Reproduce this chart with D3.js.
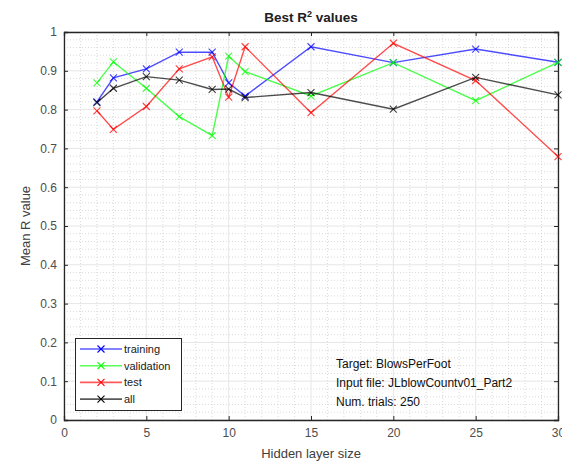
<!DOCTYPE html>
<html><head><meta charset="utf-8">
<script src="https://cdn.jsdelivr.net/npm/d3@7"></script>
<style>body{margin:0;background:#fff;font-family:"Liberation Sans",Arial,sans-serif;}</style>
</head><body><svg id="c" width="562" height="462"></svg>
<script>
const hiddenSizes = [2, 3, 5, 7, 9, 10, 11, 15, 20, 25, 30];
const training   = [0.820, 0.882, 0.905, 0.948, 0.948, 0.869, 0.835, 0.962, 0.921, 0.956, 0.922];
const validation = [0.869, 0.923, 0.855, 0.782, 0.733, 0.938, 0.898, 0.835, 0.921, 0.823, 0.922];
const test       = [0.797, 0.749, 0.808, 0.905, 0.936, 0.832, 0.962, 0.792, 0.971, 0.875, 0.679];
const all        = [0.818, 0.855, 0.885, 0.876, 0.852, 0.853, 0.831, 0.844, 0.801, 0.883, 0.838];
const seriesNames = ["training", "validation", "test", "all"];
const seriesColors = ["#0000ff", "#00ff00", "#ff0000", "#000000"];
const xTicks = [0, 5, 10, 15, 20, 25, 30];
const yTicks = [0, 0.1, 0.2, 0.3, 0.4, 0.5, 0.6, 0.7, 0.8, 0.9, 1];
const infoLines = ["Target: BlowsPerFoot", "Input file: JLblowCountv01_Part2", "Num. trials: 250"];

const svg = d3.select("#c");
const L = 64, R = 558, T = 32, B = 420;
const x = d3.scaleLinear().domain([0, 30]).range([L, R]);
const y = d3.scaleLinear().domain([0, 1]).range([B, T]);

// minor grid
const g = svg.append("g");
g.selectAll("line.mx").data(d3.range(0, 31, 1).filter(v => v % 5)).enter().append("line")
  .attr("x1", d => x(d)).attr("x2", d => x(d)).attr("y1", T).attr("y2", B)
  .attr("stroke", "#d0d0d0").attr("stroke-width", 0.8).attr("stroke-dasharray", "1,2");
g.selectAll("line.my").data(d3.range(0, 51, 1).filter(v => v % 5).map(v => v * 0.02)).enter().append("line")
  .attr("x1", L).attr("x2", R).attr("y1", d => y(d)).attr("y2", d => y(d))
  .attr("stroke", "#d0d0d0").attr("stroke-width", 0.8).attr("stroke-dasharray", "1,2");
// major grid
g.selectAll("line.gx").data(xTicks).enter().append("line")
  .attr("x1", d => x(d)).attr("x2", d => x(d)).attr("y1", T).attr("y2", B)
  .attr("stroke", "#e6e6e6").attr("stroke-width", 1);
g.selectAll("line.gy").data(yTicks).enter().append("line")
  .attr("x1", L).attr("x2", R).attr("y1", d => y(d)).attr("y2", d => y(d))
  .attr("stroke", "#e6e6e6").attr("stroke-width", 1);

// axes
const xa = svg.append("g").attr("transform", `translate(0,${B})`)
  .call(d3.axisBottom(x).tickValues(xTicks).tickSize(-4).tickPadding(8).tickFormat(d3.format("d")));
const xa2 = svg.append("g").attr("transform", `translate(0,${T})`)
  .call(d3.axisTop(x).tickValues(xTicks).tickSize(-4).tickFormat(""));
const ya = svg.append("g").attr("transform", `translate(${L},0)`)
  .call(d3.axisLeft(y).tickValues(yTicks).tickSize(-4).tickPadding(7).tickFormat(d => d3.format("")(+d.toFixed(1))));
const ya2 = svg.append("g").attr("transform", `translate(${R},0)`)
  .call(d3.axisRight(y).tickValues(yTicks).tickSize(-4).tickFormat(""));
[xa, xa2, ya, ya2].forEach(a => {
  a.select(".domain").attr("stroke", "#262626").attr("stroke-width", 1.3);
  a.selectAll(".tick line").attr("stroke", "#262626");
  a.selectAll("text").attr("fill", "#4d4d4d").style("font-size", "12px").style("font-family", "Liberation Sans, Arial, sans-serif");
});

// lines
const seriesData = [training, validation, test, all];
const line = d3.line().x((d, i) => x(hiddenSizes[i])).y(d => y(d));
function cross(sel, cx, cy, color) {
  const s = 3.5;
  sel.append("path").attr("d", `M${cx - s},${cy - s}L${cx + s},${cy + s}M${cx - s},${cy + s}L${cx + s},${cy - s}`)
    .attr("stroke", color).attr("stroke-width", 1.1).attr("fill", "none");
}
seriesData.forEach((vals, k) => {
  const c = seriesColors[k];
  svg.append("path").datum(vals).attr("d", line).attr("fill", "none")
    .attr("stroke", c).attr("stroke-width", 1.4).attr("stroke-opacity", 0.7);
  const mg = svg.append("g").attr("opacity", 0.75);
  vals.forEach((v, i) => cross(mg, x(hiddenSizes[i]), y(v), c));
});

// title & labels
const title = svg.append("text").attr("x", (L + R) / 2).attr("y", 22).attr("text-anchor", "middle")
  .style("font-weight", "bold").style("font-size", "13.5px").attr("fill", "#202020");
title.append("tspan").text("Best R");
title.append("tspan").text("2").attr("dy", -5).style("font-size", "9px");
title.append("tspan").text(" values").attr("dy", 5);
svg.append("text").attr("x", (L + R) / 2).attr("y", 458).attr("text-anchor", "middle")
  .style("font-size", "13px").attr("fill", "#404040").text("Hidden layer size");
svg.append("text").attr("transform", `translate(30,${(T + B) / 2}) rotate(-90)`).attr("text-anchor", "middle")
  .style("font-size", "13px").attr("fill", "#404040").text("Mean R value");

// legend
const lg = svg.append("g");
lg.append("rect").attr("x", 75.5).attr("y", 338.5).attr("width", 106).attr("height", 72)
  .attr("fill", "#fff").attr("stroke", "#262626").attr("stroke-width", 1);
seriesNames.forEach((n, k) => {
  const yy = 349 + k * 16.7;
  lg.append("line").attr("x1", 80).attr("x2", 122).attr("y1", yy).attr("y2", yy)
    .attr("stroke", seriesColors[k]).attr("stroke-width", 1.6).attr("stroke-opacity", 0.65);
  cross(lg, 101, yy, seriesColors[k]);
  lg.append("text").attr("x", 124).attr("y", yy + 4).style("font-size", "11px").attr("fill", "#202020").text(n);
});

// info text
infoLines.forEach((t, i) => {
  svg.append("text").attr("x", 336).attr("y", 368 + i * 19).style("font-size", "12px").attr("fill", "#101010").text(t);
});
</script></body></html>
